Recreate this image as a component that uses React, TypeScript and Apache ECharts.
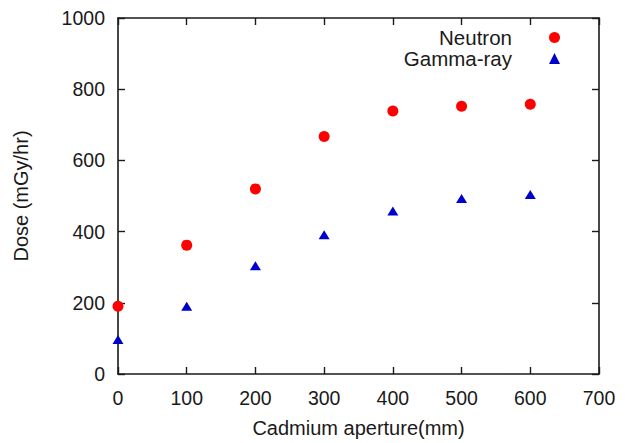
import React, { useEffect, useRef } from "react";
import * as echarts from "echarts";

const apertures = [0, 100, 200, 300, 400, 500, 600];
const neutronDose = [190, 362, 520, 667, 739, 752, 758];
const gammaDose = [97, 190, 304, 391, 458, 493, 504];
const seriesNames = ["Neutron", "Gamma-ray"];
const xTitle = "Cadmium aperture(mm)";
const yTitle = "Dose (mGy/hr)";

const FONT = "Liberation Sans, Arial, Helvetica, sans-serif";

export default function App() {
  const ref = useRef<HTMLDivElement>(null);
  useEffect(() => {
    if (!ref.current) return;
    const chart = echarts.init(ref.current, undefined, { renderer: "svg" });
    const axisLine = { show: true, onZero: false, lineStyle: { color: "#1a1a1a", width: 1.6 } };
    const tick = { show: true, inside: true, length: 7, lineStyle: { color: "#1a1a1a", width: 1.4 } };
    const label = { color: "#1a1a1a", fontSize: 19.5, fontFamily: FONT, formatter: (v: number) => String(v) };
    chart.setOption({
      animation: false,
      backgroundColor: "#ffffff",
      grid: { left: 118, right: 34, top: 18, bottom: 63, containLabel: false },
      legend: {
        orient: "vertical",
        right: 68,
        top: 22,
        align: "right",
        itemGap: 0,
        itemWidth: 11,
        itemHeight: 11,
        data: seriesNames,
        textStyle: { color: "#1a1a1a", fontSize: 20.5, fontFamily: FONT, padding: [0, 32, 0, 0], lineHeight: 20 },
      },
      xAxis: [
        {
          type: "value",
          min: 0,
          max: 700,
          interval: 100,
          position: "bottom",
          name: xTitle,
          nameLocation: "middle",
          nameGap: 44,
          nameTextStyle: { color: "#1a1a1a", fontSize: 20, fontFamily: FONT },
          axisLine,
          axisTick: tick,
          axisLabel: { ...label, margin: 14 },
          splitLine: { show: false },
        },
        {
          type: "value",
          min: 0,
          max: 700,
          interval: 100,
          position: "top",
          axisLine,
          axisTick: tick,
          axisLabel: { show: false },
          splitLine: { show: false },
        },
      ],
      yAxis: [
        {
          type: "value",
          min: 0,
          max: 1000,
          interval: 200,
          position: "left",
          name: yTitle,
          nameLocation: "middle",
          nameGap: 87,
          nameTextStyle: { color: "#1a1a1a", fontSize: 20, fontFamily: FONT },
          axisLine,
          axisTick: tick,
          axisLabel: { ...label, margin: 13 },
          splitLine: { show: false },
        },
        {
          type: "value",
          min: 0,
          max: 1000,
          interval: 200,
          position: "right",
          axisLine,
          axisTick: tick,
          axisLabel: { show: false },
          splitLine: { show: false },
        },
      ],
      series: [
        {
          name: seriesNames[0],
          type: "scatter",
          symbol: "circle",
          symbolSize: 11,
          itemStyle: { color: "#ff0000", opacity: 1 },
          data: apertures.map((x, i) => [x, neutronDose[i]]),
        },
        {
          name: seriesNames[1],
          type: "scatter",
          symbol: "triangle",
          symbolSize: [11, 9],
          symbolKeepAspect: true,
          itemStyle: { color: "#0000cc", opacity: 1 },
          data: apertures.map((x, i) => [x, gammaDose[i]]),
        },
      ],
    });
    return () => chart.dispose();
  }, []);
  return <div ref={ref} style={{ width: 633, height: 443, position: "absolute", left: 0, top: 0 }} />;
}
